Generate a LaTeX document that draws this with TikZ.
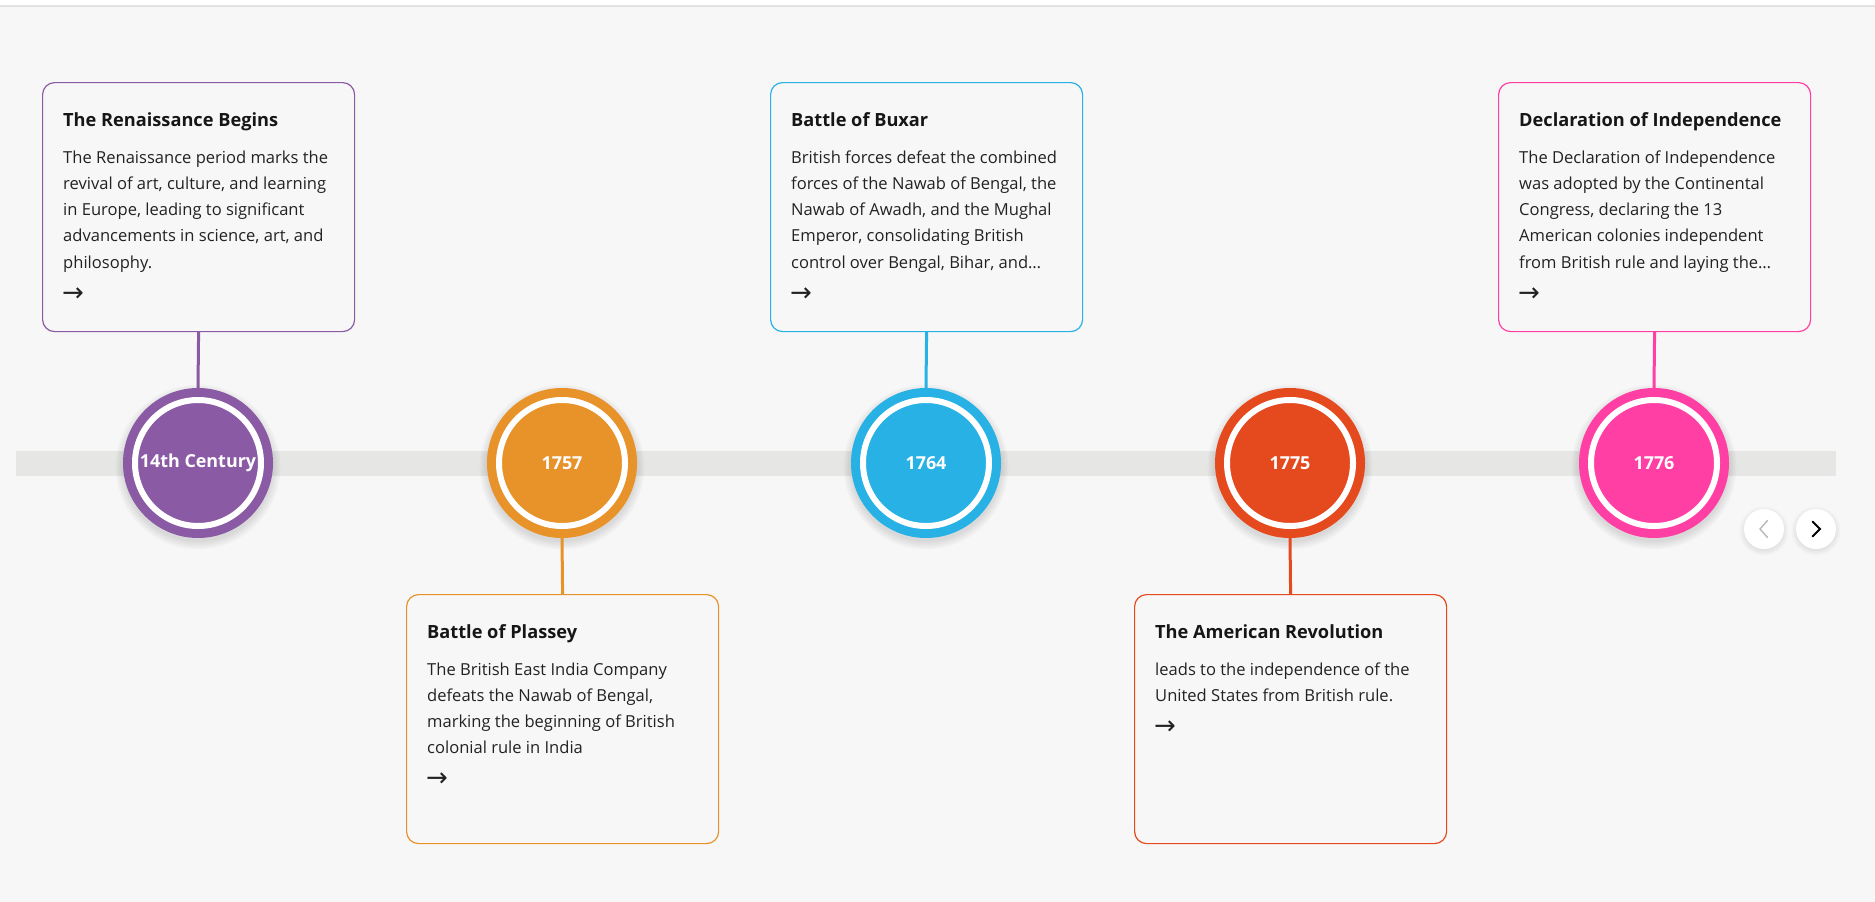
\documentclass[tikz,border=0pt]{standalone}
\usepackage{fontspec}
\setmainfont{Open Sans}
\newfontfamily\arrowfont{DejaVu Sans}
\usetikzlibrary{calc}
\definecolor{bgc}{HTML}{F7F7F7}
\definecolor{topline}{HTML}{E2E2E2}
\definecolor{barc}{HTML}{E6E6E4}
\definecolor{cpurple}{HTML}{8A5BA4}
\definecolor{corange}{HTML}{E8922A}
\definecolor{cblue}{HTML}{27B1E5}
\definecolor{cred}{HTML}{E54A1F}
\definecolor{cpink}{HTML}{FF3FA4}
\definecolor{txt}{HTML}{161616}
\definecolor{txtb}{HTML}{222222}
\tikzset{
  card/.style={draw=#1, line width=1.2, rounded corners=12, minimum width=312, minimum height=249, inner sep=0, anchor=north west},
  ttl/.style={anchor=base west, inner sep=0, text=txt, font=\bfseries\fontsize{18.2}{24}\selectfont},
  bod/.style={anchor=base west, inner sep=0, text=txtb, font=\fontsize{16.55}{26}\selectfont},
  arr/.style={anchor=west, inner sep=0, text=txtb, font=\arrowfont\fontsize{26}{28}\selectfont},
  dot/.style={circle, fill=#1, minimum size=150, inner sep=0},
  dotlabel/.style={inner sep=0, text=white, font=\bfseries\fontsize{17.9}{22}\selectfont},
  ring/.style={white, line width=6},
  conn/.style={draw=#1, line width=3},
  navbtn/.style={circle, fill=white, minimum size=40, inner sep=0},
  shad/.style={fill=black, opacity=0.02}
}
\newcommand\mkcard[6]{%
  \node[card=#2] (#1) at (#3,#4) {};
  \node[ttl] (#1t) at ($(#1.north west)+(21,44)$) {#5};
  \foreach \ln [count=\k] in {#6} {
    \node[bod] (#1l\k) at ($(#1.north west)+(21,{81+(\k-1)*26.25})$) {\ln};
    \xdef\lastk{\k}
  }
  \node[arr] (#1a) at ($(#1.north west)+(20,{81+\lastk*26.25})$) {→};
}
\newcommand\mkshadow[1]{%
  \foreach \r in {75,76.5,78,79.5,81,82.5}{\fill[shad] ($(#1)+(0,4)$) circle[radius=\r];}
}
\begin{document}
\begin{tikzpicture}[x=1pt,y=-1pt]
\useasboundingbox (0,0) rectangle (1875,902);
\fill[white] (0,0) rectangle (1875,902);
\fill[bgc] (0,6) rectangle (1875,902);
\draw[topline, line width=1.5] (0,6) -- (1875,6);
\fill[barc] (16,451) rectangle (1836,476);
% positions
\coordinate (p1) at (198,463);
\coordinate (p2) at (562,463);
\coordinate (p3) at (926,463);
\coordinate (p4) at (1290,463);
\coordinate (p5) at (1654,463);
\coordinate (q1) at (1764,529);
\coordinate (q2) at (1816,529);
\foreach \p in {p1,p2,p3,p4,p5}{\mkshadow{\p}}
\foreach \r in {20,21.5,23,24.5}{\fill[shad] ($(q1)+(0,2)$) circle[radius=\r]; \fill[shad] ($(q2)+(0,2)$) circle[radius=\r];}
% cards
\mkcard{b1}{cpurple}{42}{82}{The Renaissance Begins}{The Renaissance period marks the,{revival of art, culture, and learning},{in Europe, leading to significant},{advancements in science, art, and},philosophy.}
\mkcard{b2}{corange}{406}{594}{Battle of Plassey}{The British East India Company,{defeats the Nawab of Bengal,},marking the beginning of British,colonial rule in India}
\mkcard{b3}{cblue}{770}{82}{Battle of Buxar}{British forces defeat the combined,{forces of the Nawab of Bengal, the},{Nawab of Awadh, and the Mughal},{Emperor, consolidating British},{control over Bengal, Bihar, and…}}
\mkcard{b4}{cred}{1134}{594}{The American Revolution}{leads to the independence of the,United States from British rule.}
\mkcard{b5}{cpink}{1498}{82}{Declaration of Independence}{The Declaration of Independence,was adopted by the Continental,{Congress, declaring the 13},American colonies independent,from British rule and laying the…}
% circles
\node[dot=cpurple] (c1) at (p1) {};
\node[dot=corange] (c2) at (p2) {};
\node[dot=cblue] (c3) at (p3) {};
\node[dot=cred] (c4) at (p4) {};
\node[dot=cpink] (c5) at (p5) {};
\foreach \c in {c1,c2,c3,c4,c5}{\draw[ring] (\c) circle[radius=63];}
\node[dotlabel] (c1t) at (p1) {14th Century};
\node[dotlabel] (c2t) at (p2) {1757};
\node[dotlabel] (c3t) at (p3) {1764};
\node[dotlabel] (c4t) at (p4) {1775};
\node[dotlabel] (c5t) at (p5) {1776};
% connectors
\draw[conn=cpurple] (b1.south) -- (c1.north);
\draw[conn=corange] (c2.south) -- (b2.north);
\draw[conn=cblue] (b3.south) -- (c3.north);
\draw[conn=cred] (c4.south) -- (b4.north);
\draw[conn=cpink] (b5.south) -- (c5.north);
% nav buttons
\node[navbtn] (prev) at (q1) {};
\node[navbtn] (next) at (q2) {};
\draw[black!28, line width=1.4, line cap=round] ($(prev)+(3.5,-8.5)$) -- ($(prev)+(-4,0)$) -- ($(prev)+(3.5,8.5)$);
\draw[black, line width=2, line cap=round, line join=miter] ($(next)+(-3.5,-7.5)$) -- ($(next)+(4,0)$) -- ($(next)+(-3.5,7.5)$);
\end{tikzpicture}
\end{document}
